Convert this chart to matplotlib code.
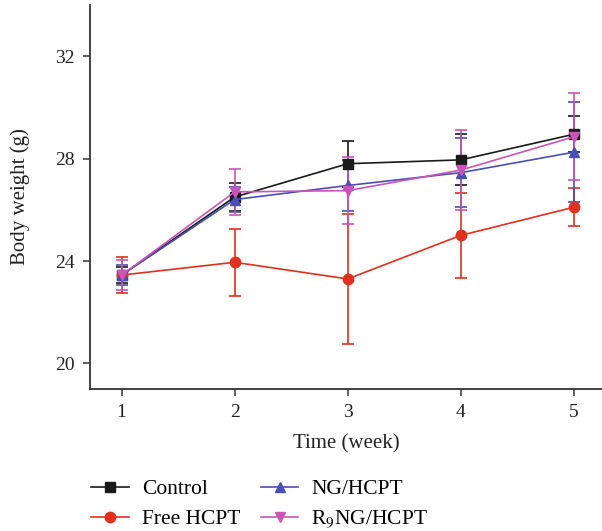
import matplotlib
matplotlib.use("Agg")
import matplotlib.pyplot as plt

# Body weight over treatment time, mean +/- error
weeks = [1, 2, 3, 4, 5]

control = [23.45, 26.5, 27.8, 27.95, 28.95]
control_err = [0.3, 0.55, 0.9, 1.0, 0.7]

free_hcpt = [23.45, 23.95, 23.3, 25.0, 26.1]
free_hcpt_err = [0.7, 1.3, 2.55, 1.65, 0.75]

ng_hcpt = [23.45, 26.4, 26.95, 27.45, 28.25]
ng_hcpt_err = [0.4, 0.5, 1.0, 1.35, 1.95]

r9ng_hcpt = [23.45, 26.7, 26.75, 27.55, 28.85]
r9ng_hcpt_err = [0.6, 0.9, 1.3, 1.55, 1.7]

series = [
    ("Control", control, control_err, "#1a1a1a", "s"),
    ("Free HCPT", free_hcpt, free_hcpt_err, "#e0301e", "o"),
    ("NG/HCPT", ng_hcpt, ng_hcpt_err, "#4a4fb5", "^"),
    (r"R$_9$NG/HCPT", r9ng_hcpt, r9ng_hcpt_err, "#c955b8", "v"),
]

plt.rcParams["font.family"] = ["Liberation Serif", "DejaVu Serif"]
plt.rcParams["mathtext.fontset"] = "stix"

fig = plt.figure(figsize=(6.02, 5.31), dpi=100)
ax = fig.add_axes([0.1495, 0.2674, 0.8505, 0.7232])

lines = []
for label, vals, err, color, marker in series:
    cont = ax.errorbar(weeks, vals, yerr=err, color=color, marker=marker,
                       markersize=7.5, linewidth=1.2, elinewidth=1.2, capsize=4,
                       capthick=1.2, label=label)
    lines.append(cont[0])

ax.set_xlim(0.72, 5.25)
ax.set_ylim(19, 34)
ax.set_xticks(weeks)
ax.set_yticks([20, 24, 28, 32])

for side in ("top", "right"):
    ax.spines[side].set_visible(False)
for side in ("left", "bottom"):
    ax.spines[side].set_linewidth(1.3)
    ax.spines[side].set_color("#333333")

ax.tick_params(direction="out", length=5, width=1.1, color="#333333",
               labelsize=14, labelcolor="#222222", pad=6)
ax.set_xlabel("Time (week)", fontsize=15, color="#222222", labelpad=9)
ax.set_ylabel("Body weight (g)", fontsize=15, color="#222222", labelpad=18)

fig.legend(lines, [s[0] for s in series], loc="lower left",
           bbox_to_anchor=(0.132, -0.021), ncol=2, frameon=False, fontsize=15.5,
           handlelength=1.75, columnspacing=0.95, handletextpad=0.6,
           labelspacing=0.45, borderaxespad=0.15)

fig.savefig("out.png", dpi=100)
